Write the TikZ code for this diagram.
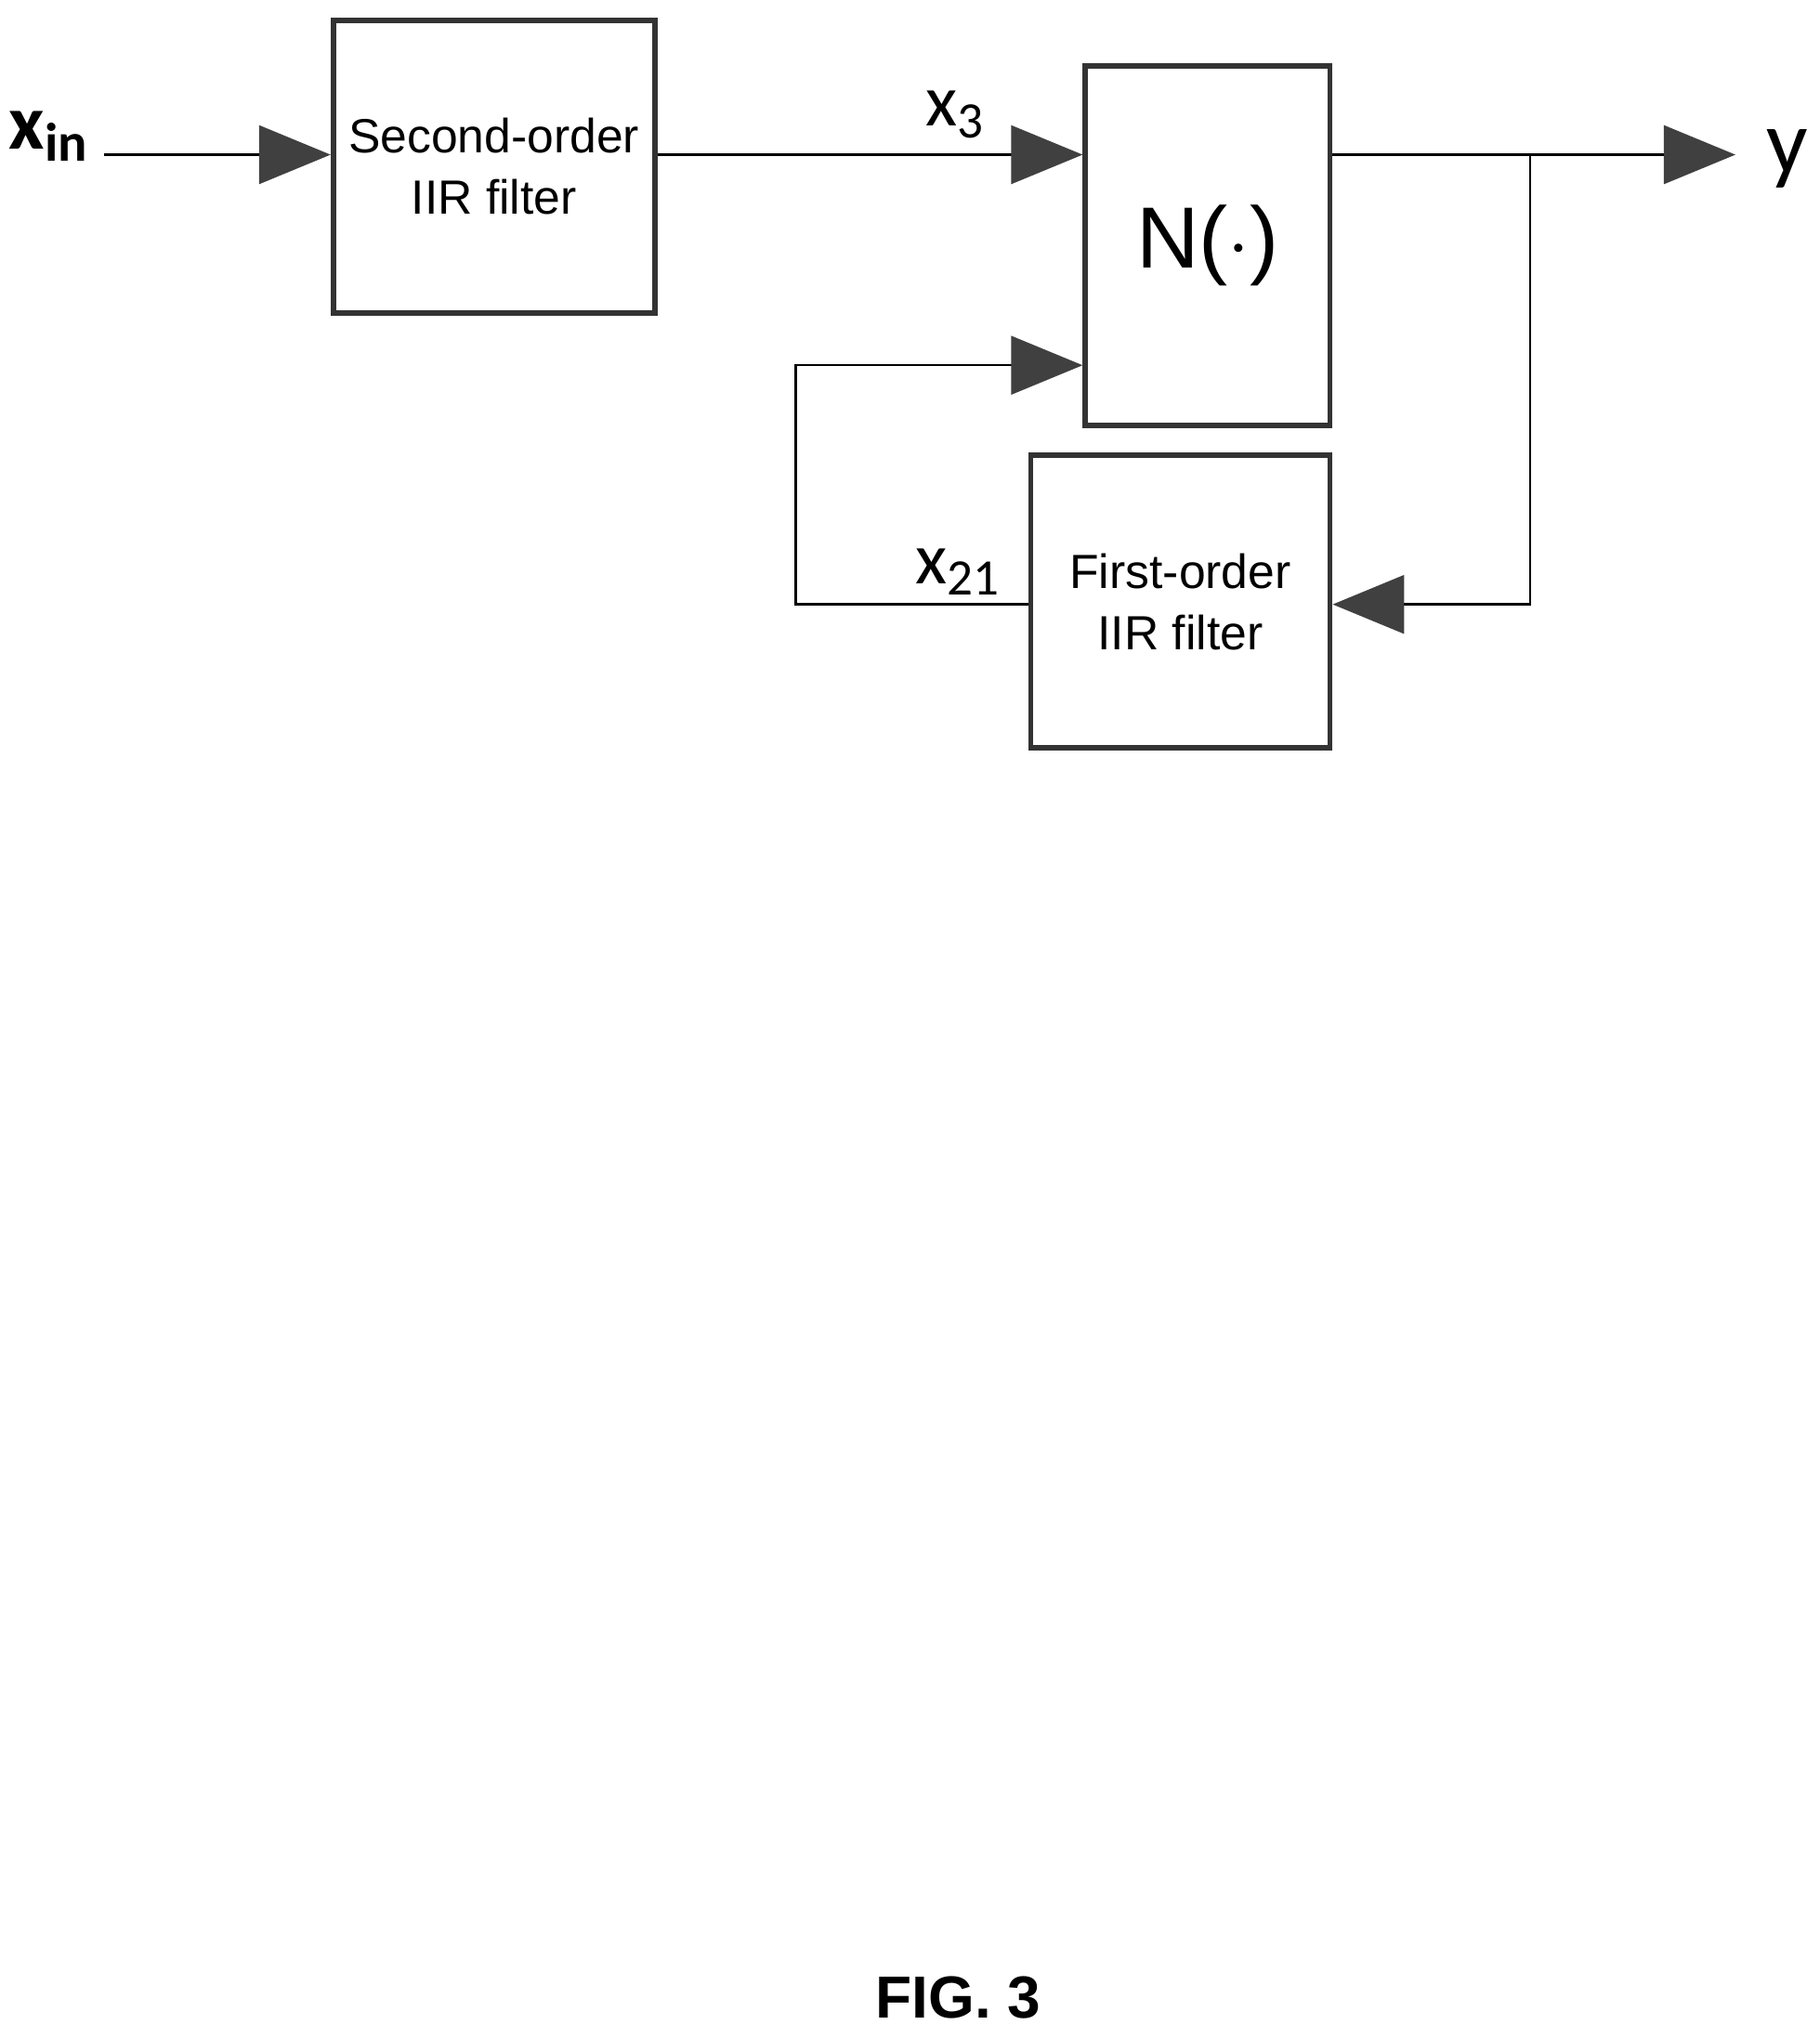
\documentclass[tikz,border=0pt]{standalone}
\usepackage{fontspec}
\setmainfont{Liberation Sans}
\newfontfamily\lblfont{Carlito}
\usetikzlibrary{arrows.meta}
\tikzset{
  blk/.style={draw, line width=1.2pt, draw=black!80, minimum width=2.3cm, minimum height=2.25cm, align=center, font=\fontsize{10.5}{13.5}\selectfont},
  sig/.style={draw, line width=0.5pt},
  tip/.style={-{Triangle[length=0.55cm,width=0.45cm,fill=black!75,color=black!75]}},
  lbl/.style={font=\lblfont\fontsize{16}{18}\selectfont}
}
\begin{document}
\begin{tikzpicture}[x=0.01cm,y=-0.01cm]
\useasboundingbox (0,0) rectangle (1400,1568);

%Blocks
\node[blk] (iir2) at (380,128) {Second-order\\IIR filter};
\node[blk, minimum width=1.88cm, minimum height=2.77cm, font=\fontsize{19}{22}\selectfont] (nl) at (929,189) {N($\cdot$)};
\node[blk] (iir1) at (908,463) {First-order\\IIR filter};

%Labels
\node[lbl, font=\lblfont\bfseries\fontsize{17}{19}\selectfont] (xin) at (38,105) {x\textsubscript{in}};
\node[lbl] (x3) at (735,88) {x\textsubscript{3}};
\node[lbl] (x21) at (737,440) {x\textsubscript{21}};
\node[lbl, font=\lblfont\fontsize{20}{22}\selectfont] (y) at (1375,122) {y};
\node[font=\bfseries\fontsize{13}{15}\selectfont] (fig) at (737,1537) {FIG. 3};

%Coordinates
\coordinate (in) at (80,119);
\coordinate (out) at (1335,119);
\coordinate (br) at (1177,119);
\coordinate (brd) at (1177,465);
\coordinate (fbl) at (612,465);
\coordinate (fbu) at (612,281);

%Connectors
\draw[sig, tip] (in) -- (iir2.west |- in);
\draw[sig, tip] (iir2.east |- in) -- (nl.west |- in);
\draw[sig, tip] (nl.east |- in) -- (out);
\draw[sig, tip] (br) -- (brd) -- (iir1.east |- brd);
\draw[sig, tip] (iir1.west |- fbl) -- (fbl) -- (fbu) -- (nl.west |- fbu);

\end{tikzpicture}
\end{document}
